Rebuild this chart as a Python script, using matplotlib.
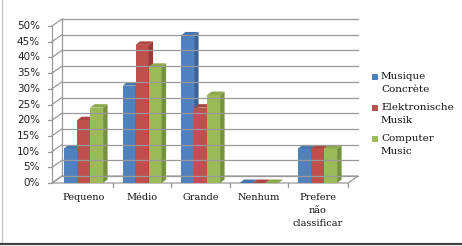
import numpy as np
import matplotlib.pyplot as plt
from matplotlib.patches import Polygon, Rectangle
from matplotlib.lines import Line2D

categories = ["Pequeno", "Médio", "Grande", "Nenhum", "Prefere\nnão\nclassificar"]
series = ["Musique\nConcrète", "Elektronische\nMusik", "Computer\nMusic"]
concrete = [11, 31, 47, 0, 11]
elektronische = [20, 44, 24, 0, 11]
computer = [24, 37, 28, 0, 11]
yticks = [0, 5, 10, 15, 20, 25, 30, 35, 40, 45, 50]

values = [concrete, elektronische, computer]
front = ["#4F81BD", "#C0504D", "#9BBB59"]
side = ["#3A6296", "#963C3A", "#75923C"]
top = ["#4674AE", "#AD4744", "#8AAA4B"]

W, H = 462, 246
fig = plt.figure(figsize=(W / 100, H / 100), dpi=100)
ax = fig.add_axes([52 / W, (H - 183) / H, 296 / W, 157 / H])
ax.set_xlim(-0.54, 4.52)
ax.set_ylim(0, 50)
ax.axis("off")

# pixel -> data unit conversion
sx = 296 / (4.52 + 0.54)
sy = 157 / 50
wdx, wdy = 10 / sx, 7 / sy      # wall depth
bdx, bdy = 4.5 / sx, 3.5 / sy   # bar depth
x0, x1 = -0.54, 4.52
grid = "#999999"

# back wall gridlines and left wall
for v in yticks:
    ax.plot([x0 + wdx, x1 + wdx], [v + wdy, v + wdy], color=grid, lw=0.9, clip_on=False)
    ax.plot([x0, x0 + wdx], [v, v + wdy], color=grid, lw=0.9, clip_on=False)
    ax.plot([x0 - 4 / sx, x0], [v, v], color=grid, lw=0.9, clip_on=False)
    ax.text(x0 - 12 / sx, v, f"{v}%", ha="right", va="center", fontsize=7.5,
            color="#222222", family="DejaVu Sans")
ax.plot([x0, x0], [0, 50], color=grid, lw=0.9, clip_on=False)
ax.plot([x0 + wdx, x0 + wdx], [wdy, 50 + wdy], color=grid, lw=0.9, clip_on=False)

# floor
ax.add_patch(Polygon([(x0, 0), (x1, 0), (x1 + wdx, wdy), (x0 + wdx, wdy)],
                     closed=True, facecolor="white", edgecolor=grid, lw=0.9, clip_on=False))
for b in np.arange(0.5, 4.5, 1.0):
    ax.plot([b, b], [0, -4 / sy], color=grid, lw=0.9, clip_on=False)
ax.plot([x1, x1], [0, -4 / sy], color=grid, lw=0.9, clip_on=False)

# bars
bw = 13 / sx
xs = np.arange(len(categories))
for i in xs:
    for k in range(3):
        h = values[k][i]
        a = i + (k - 1.5) * bw
        b = a + bw
        ax.add_patch(Rectangle((a, 0), bw, h, facecolor=front[k], edgecolor="none", clip_on=False))
        ax.add_patch(Polygon([(b, 0), (b + bdx, bdy), (b + bdx, h + bdy), (b, h)],
                             closed=True, facecolor=side[k], edgecolor="none", clip_on=False))
        ax.add_patch(Polygon([(a, h), (b, h), (b + bdx, h + bdy), (a + bdx, h + bdy)],
                             closed=True, facecolor=top[k], edgecolor="none", clip_on=False))

for i, c in enumerate(categories):
    ax.text(i, -10 / sy, c, ha="center", va="top", fontsize=7, family="DejaVu Serif",
            linespacing=1.6, color="#111111")

# legend
for k, s in enumerate(series):
    yy = 77 + 31 * k
    fig.add_artist(Rectangle((372 / W, 1 - (yy + 3) / H), 6 / W, 6 / H,
                             transform=fig.transFigure, facecolor=front[k], edgecolor="none"))
    fig.text(381 / W, 1 - (yy - 5) / H, s, ha="left", va="top", fontsize=7.5,
             family="DejaVu Serif", linespacing=1.55, color="#111111")

# chart frame
fig.add_artist(Line2D([1.5 / W, 1.5 / W], [3 / H, 1], transform=fig.transFigure, color="#C8C8C8", lw=1))
fig.add_artist(Line2D([0, 1], [2.5 / H, 2.5 / H], transform=fig.transFigure, color="#404040", lw=1.6))

fig.savefig("out.png", dpi=100)
